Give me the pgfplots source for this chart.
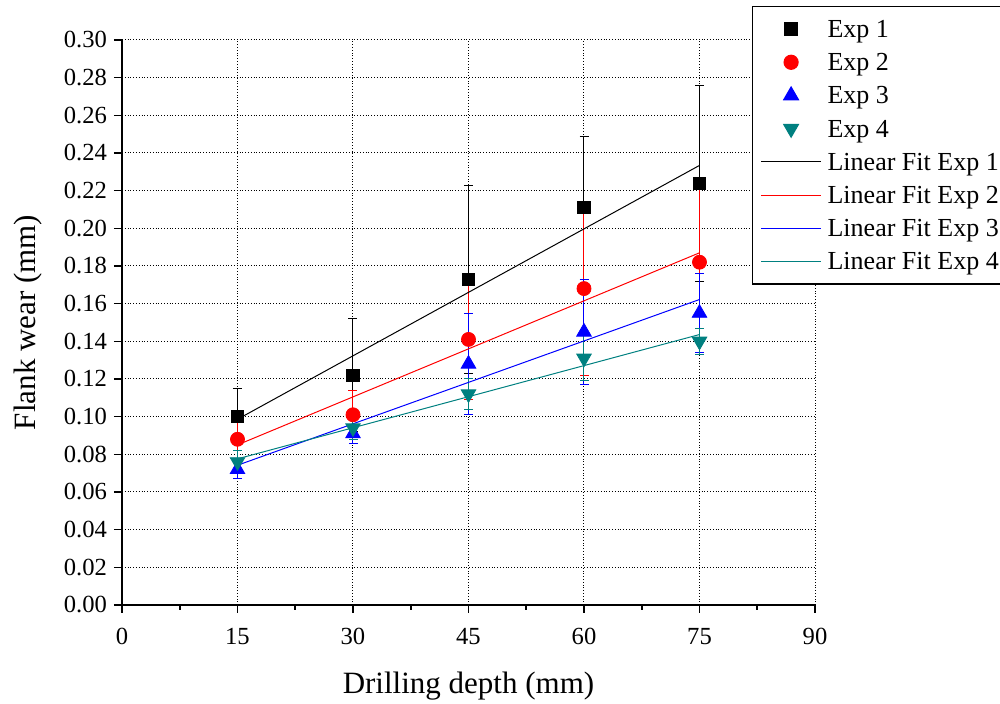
\documentclass[border=0pt]{standalone}
\usepackage{pgfplots}
\pgfplotsset{compat=1.18}
\usepackage{fontspec}
\setmainfont{Liberation Serif}

\definecolor{expteal}{RGB}{0,128,128}

% drilling depth (mm), flank wear (mm), error
\pgfplotstableread{
x y e
15 0.100 0.015
30 0.122 0.030
45 0.173 0.050
60 0.211 0.038
75 0.224 0.052
}\expA
\pgfplotstableread{
x y e
15 0.088 0.012
30 0.101 0.013
45 0.141 0.032
60 0.168 0.046
75 0.182 0.041
}\expB
\pgfplotstableread{
x y e
15 0.072 0.005
30 0.091 0.005
45 0.128 0.027
60 0.145 0.028
75 0.155 0.021
}\expC
\pgfplotstableread{
x y e
15 0.076 0.006
30 0.094 0.006
45 0.112 0.008
60 0.131 0.012
75 0.140 0.007
}\expD

\begin{document}
\begin{tikzpicture}
\useasboundingbox (-61pt,-49.5pt) rectangle (439pt,302.5pt);
\begin{axis}[
  scale only axis,
  width=346.5pt, height=282.5pt,
  xmin=0, xmax=90, ymin=0, ymax=0.30,
  axis x line*=bottom, axis y line*=left,
  axis line style={line width=1pt, -},
  xtick={0,15,...,90},
  minor x tick num=1,
  ytick={0,0.02,...,0.301},
  tick align=outside,
  major tick length=4pt, minor tick length=2.5pt,
  tick style={line width=0.8pt, black},
  grid=major,
  major grid style={densely dotted, black, line width=0.5pt},
  /pgf/number format/assume math mode=true,
  yticklabel style={/pgf/number format/.cd, fixed, fixed zerofill, precision=2},
  ticklabel style={font=\fontsize{12.3}{14}\selectfont},
  xticklabel style={yshift=-4pt},
  xlabel={Drilling depth (mm)},
  ylabel={Flank wear (mm)},
  label style={font=\fontsize{15.5}{18}\selectfont},
  x label style={at={(axis description cs:0.5,-0.1434)}, anchor=center},
  y label style={at={(axis description cs:-0.1356,0.5)}, anchor=center},
  legend cell align=left,
  legend image code/.code={\draw[mark repeat=2,mark phase=2,#1] plot coordinates {(0pt,0pt) (15pt,0pt) (30pt,0pt)};},
  legend style={at={(axis description cs:0.9091,1.0602)}, anchor=north west,
    draw=black, line width=0.6pt, fill=white,
    font=\fontsize{13}{15}\selectfont,
    inner xsep=4pt, inner ysep=4.5pt, row sep=3.1pt,
    /tikz/every odd column/.append style={column sep=2pt},
    nodes={inner sep=1pt, text height=10pt, text depth=1.5pt}},
  error bars/error bar style={line width=0.5pt},
  error bars/error mark options={rotate=90, mark size=2.25pt, line width=0.5pt},
]
\addplot[only marks, black, mark=square*, mark size=3.1pt,
  error bars/.cd, y dir=both, y explicit] table[x=x, y=y, y error=e] {\expA};
\addlegendentry{Exp 1}
\addplot[only marks, red, mark=*, mark size=3.5pt,
  error bars/.cd, y dir=both, y explicit] table[x=x, y=y, y error=e] {\expB};
\addlegendentry{Exp 2}
\addplot[only marks, blue, mark=triangle*, mark size=4.2pt,
  error bars/.cd, y dir=both, y explicit] table[x=x, y=y, y error=e] {\expC};
\addlegendentry{Exp 3}
\addplot[only marks, expteal, mark=triangle*, mark size=4.2pt, mark options={rotate=180},
  error bars/.cd, y dir=both, y explicit] table[x=x, y=y, y error=e] {\expD};
\addlegendentry{Exp 4}
% least-squares fits over 15--75 mm
\addplot[black, line width=0.5pt, no marks] coordinates {(15,0.0986) (75,0.2334)};
\addlegendentry{Linear Fit Exp 1}
\addplot[red, line width=0.5pt, no marks] coordinates {(15,0.0850) (75,0.1870)};
\addlegendentry{Linear Fit Exp 2}
\addplot[blue, line width=0.5pt, no marks] coordinates {(15,0.0742) (75,0.1622)};
\addlegendentry{Linear Fit Exp 3}
\addplot[expteal, line width=0.5pt, no marks] coordinates {(15,0.0776) (75,0.1436)};
\addlegendentry{Linear Fit Exp 4}
\end{axis}
\end{tikzpicture}
\end{document}
